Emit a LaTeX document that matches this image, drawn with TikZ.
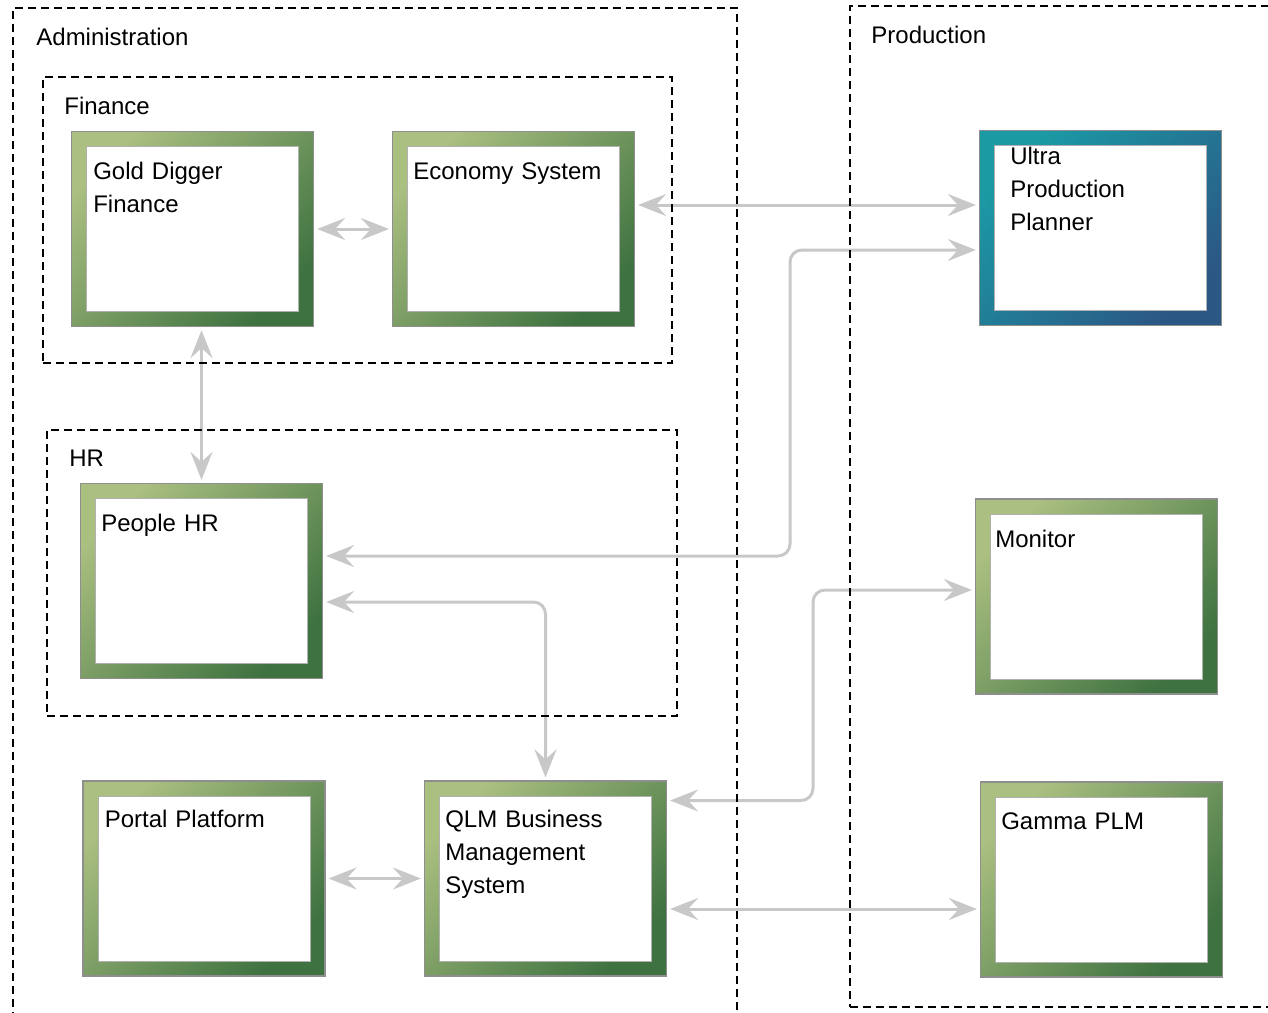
\documentclass[tikz,border=0pt]{standalone}
\usepackage{fontspec}
\setmainfont{Liberation Sans}
\usetikzlibrary{arrows.meta}

\definecolor{gUL}{HTML}{AABF80}
\definecolor{gMid}{HTML}{6F9A5E}
\definecolor{gLR}{HTML}{3E7240}
\definecolor{tUL}{HTML}{1B9AA4}
\definecolor{tMid}{HTML}{22808F}
\definecolor{tLR}{HTML}{2B5785}
\definecolor{framegray}{HTML}{8E8E8E}
\definecolor{conngray}{HTML}{C8C8C8}

\tikzset{
  x=0.5pt, y=-0.5pt,
  sysbox/.style={rectangle, minimum width=121pt, minimum height=97.5pt,
    inner sep=0pt, draw=framegray, line width=0.6pt, shading angle=45,
    path picture={
      \fill[white, draw=framegray!70, line width=0.5pt]
        ([shift={(7.5pt,-7.5pt)}]path picture bounding box.north west) rectangle
        ([shift={(-7.5pt,7.5pt)}]path picture bounding box.south east);
    }},
  greenbox/.style={sysbox, top color=gUL, middle color=gMid, bottom color=gLR, shading angle=45},
  tealbox/.style={sysbox, top color=tUL, middle color=tMid, bottom color=tLR, shading angle=45},
  group/.style={rectangle, draw=black, line width=0.75pt, dash pattern=on 4pt off 2.5pt, inner sep=0pt},
  txt/.style={font=\fontsize{12}{16.5}\selectfont, inner sep=0pt, anchor=base west,
    text width=110pt, align=left},
  conn/.style={draw=conngray, line width=1.5pt, rounded corners=6pt,
    {Stealth[length=14pt,width=11pt,inset=5pt]}-{Stealth[length=14pt,width=11pt,inset=5pt]},
    shorten <=1.5pt, shorten >=1.5pt},
}

\begin{document}
\begin{tikzpicture}
\useasboundingbox (0,0) rectangle (1268,1012);
\clip (0,0) rectangle (1268,1012);

% system boxes
\node[greenbox] (gold)   at (192.5,229)  {};
\node[greenbox] (econ)   at (513.5,229)  {};
\node[tealbox]  (ultra)  at (1100.5,228) {};
\node[greenbox] (people) at (201.5,581)  {};
\node[greenbox] (mon)    at (1096.5,596.5) {};
\node[greenbox] (portal) at (204,878.5)  {};
\node[greenbox] (qlm)    at (545.5,878.5) {};
\node[greenbox] (gamma)  at (1101.5,879.5) {};

% connectors
\draw[conn] (gold.east) -- (econ.west);
\draw[conn] ([yshift=12pt]econ.east) -- ([yshift=12pt]econ.east -| ultra.west);
\draw[conn] ([yshift=12.5pt]people.east) -| (790,250) -- ([yshift=-11pt]ultra.west);
\draw[conn] (people.north |- gold.south) -- (people.north);
\draw[conn] ([yshift=-10.5pt]people.east) -| (qlm.north);
\draw[conn] ([yshift=39pt]qlm.east) -| (813,590) -- ([yshift=3.25pt]mon.west);
\draw[conn] (portal.east) -- (qlm.west);
\draw[conn] ([yshift=-15.25pt]qlm.east) -- ([yshift=-15.25pt]qlm.east -| gamma.west);

% dashed groups
\node[group, minimum width=362pt, minimum height=516pt]   (admin)   at (375,524) {};
\node[group, minimum width=225pt, minimum height=500.5pt] (prod)    at (1075,506.5) {};
\node[group, minimum width=314.5pt, minimum height=143pt] (finance) at (357.5,220) {};
\node[group, minimum width=315pt, minimum height=143pt]   (hr)      at (362,573) {};

\node[txt] (admintxt)   at (36,45)  {Administration};
\node[txt] (prodtxt)    at (871,43) {Production};
\node[txt] (financetxt) at (64,114) {Finance};
\node[txt] (hrtxt)      at (69,466) {HR};

% redraw boxes above the dashed lines
\node[greenbox] at (gold)   {};
\node[greenbox] at (econ)   {};
\node[tealbox]  at (ultra)  {};
\node[greenbox] at (people) {};
\node[greenbox] at (mon)    {};
\node[greenbox] at (portal) {};
\node[greenbox] at (qlm)    {};
\node[greenbox] at (gamma)  {};

% box captions
\node[txt] (goldtxt)   at ([shift={(11pt,-24.5pt)}]gold.north west)   {Gold Digger\\Finance};
\node[txt] (econtxt)   at ([shift={(10.5pt,-24.5pt)}]econ.north west) {Economy System};
\begin{scope}
  \clip ([shift={(7.5pt,-7.5pt)}]ultra.north west) rectangle ([shift={(-7.5pt,7.5pt)}]ultra.south east);
  \node[txt] (ultratxt) at ([shift={(15.5pt,-17.5pt)}]ultra.north west) {Ultra\\Production\\Planner};
\end{scope}
\node[txt] (peopletxt) at ([shift={(10.5pt,-24.5pt)}]people.north west) {People HR};
\node[txt] (montxt)    at ([shift={(10pt,-24.5pt)}]mon.north west)    {Monitor};
\node[txt] (portaltxt) at ([shift={(11pt,-23.5pt)}]portal.north west)   {Portal Platform};
\node[txt] (qlmtxt)    at ([shift={(10.5pt,-23.5pt)}]qlm.north west)    {QLM Business\\Management\\System};
\node[txt] (gammatxt)  at ([shift={(10.5pt,-24pt)}]gamma.north west)  {Gamma PLM};
\end{tikzpicture}
\end{document}
